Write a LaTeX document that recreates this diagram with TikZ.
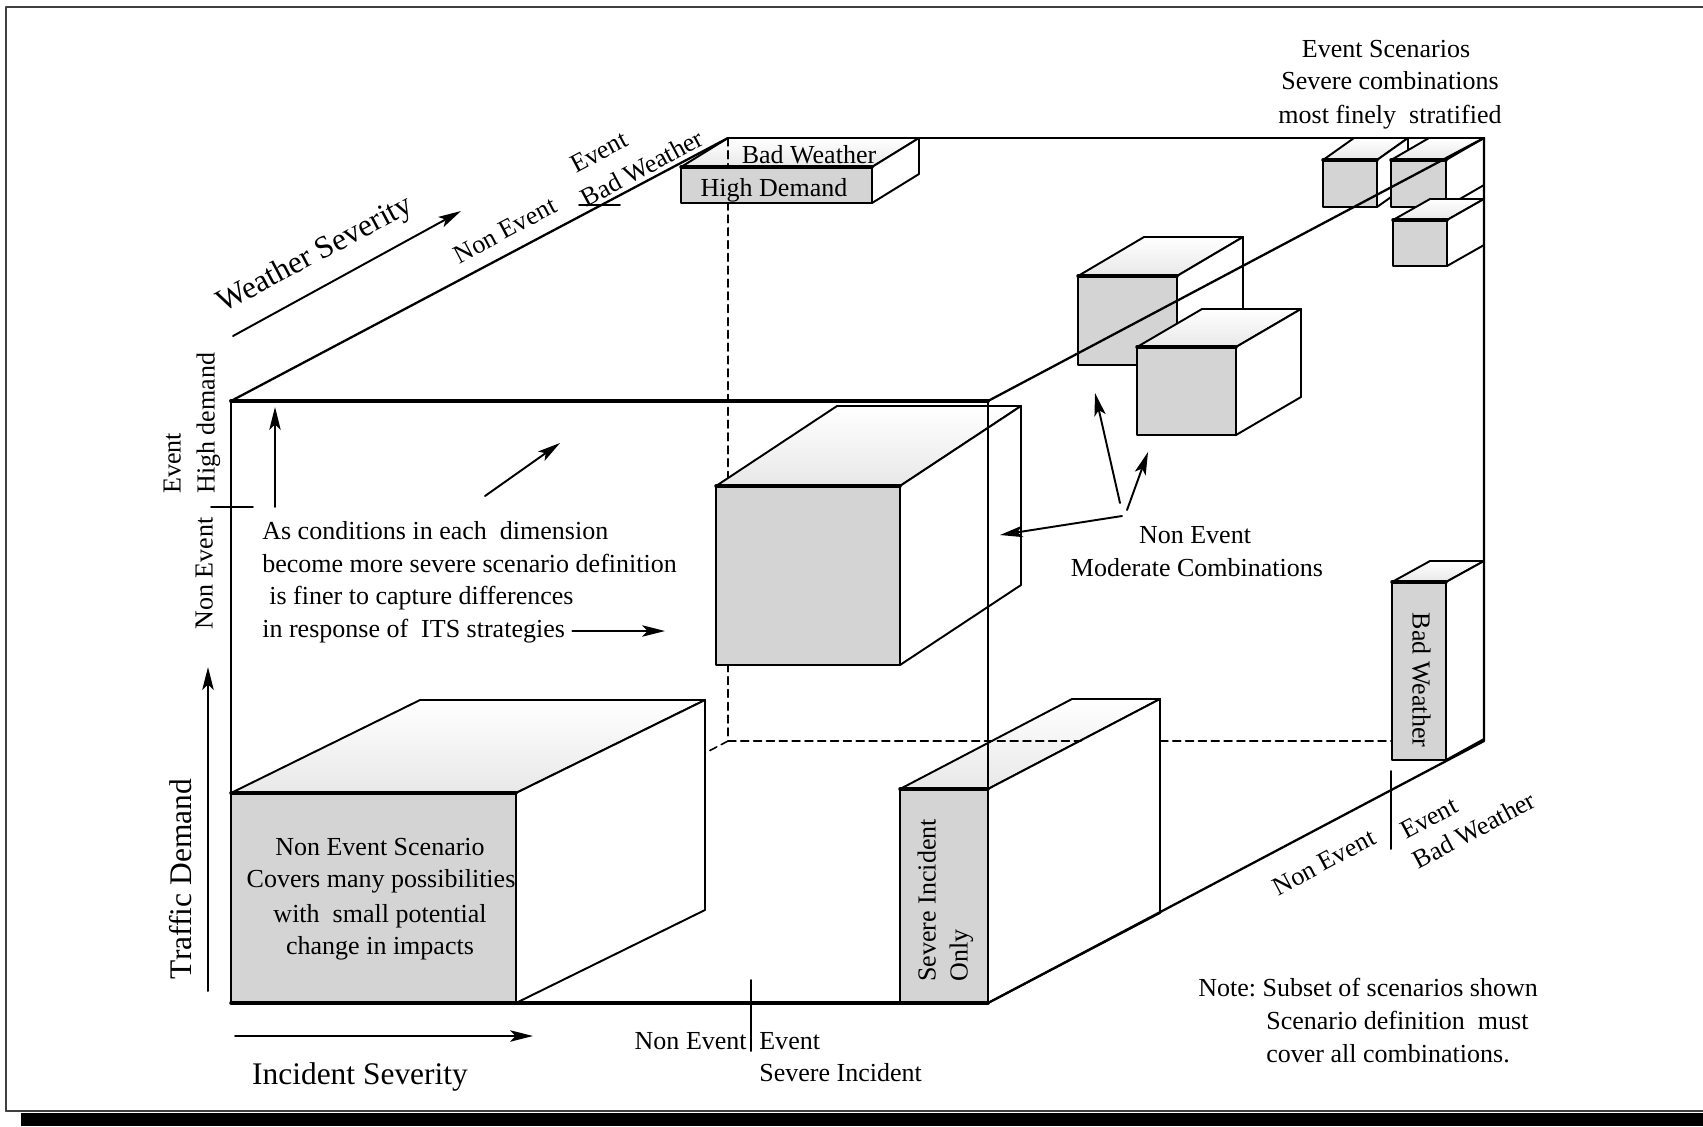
\documentclass[tikz,border=0pt]{standalone}
\usepackage{fontspec}
\setmainfont{Liberation Serif}
\usetikzlibrary{arrows.meta}

\begin{document}
\begin{tikzpicture}[line cap=round,line join=round,x=0.02cm,y=-0.02cm,
    lbl/.style={inner sep=0pt,font=\fontsize{14.8}{18}\selectfont,text height=10.4pt,text depth=3pt},
    ttl/.style={inner sep=0pt,font=\fontsize{17.9}{21}\selectfont,text height=12.5pt,text depth=3.6pt},
    boxline/.style={line width=1.1pt},
    frontface/.style={boxline,draw=black,fill=black!17},
    topface/.style={boxline,draw=black,top color=white,bottom color=black!9},
    sideface/.style={boxline,draw=black,fill=white},
    rim/.style={line width=2pt},
    hidden/.style={line width=0.9pt,dash pattern=on 4.5pt off 2.8pt},
    arr/.style={line width=1.1pt,-{Stealth[length=13pt,width=6.5pt,inset=3pt]}}]
  \useasboundingbox (0,0) rectangle (1703,1126);

  % page frame with its shadow
  \draw[line width=1.1pt,black!75] (6,1111) -- (6,7) -- (1703,7);
  \draw[line width=1.1pt,black!75] (6,1111) -- (1703,1111);
  \fill[black] (21,1113) rectangle (1703,1126);

  % corners of the scenario space
  \coordinate (F1) at (231,401);
  \coordinate (F2) at (988,401);
  \coordinate (F3) at (988,1003);
  \coordinate (F4) at (231,1003);
  \coordinate (B1) at (728,138);
  \coordinate (B2) at (1484,138);
  \coordinate (B3) at (1484,741);
  \coordinate (B4) at (728,741);

  % hidden edges
  \draw[hidden] (B1) -- (B4) -- (F4);

  % non event block
  \draw[topface] (231,793) -- ++(189,-93) -- ++(285,0) -- ++(-189,93) -- cycle;
  \draw[sideface] (516,793) -- ++(189,-93) -- ++(0,210) -- ++(-189,93) -- cycle;
  \draw[frontface] (231,793) rectangle (516,1003);
  \draw[rim] (231,793) -- (516,793);

  % middle block
  \draw[topface] (716,486) -- ++(121,-80) -- ++(184,0) -- ++(-121,80) -- cycle;
  \draw[sideface] (900,486) -- ++(121,-80) -- ++(0,179) -- ++(-121,80) -- cycle;
  \draw[frontface] (716,486) rectangle (900,665);
  \draw[rim] (716,486) -- (900,486);

  % severe incident block
  \draw[topface] (900,789) -- ++(172,-90) -- ++(88,0) -- ++(-172,90) -- cycle;
  \draw[sideface] (988,789) -- ++(172,-90) -- ++(0,214) -- ++(-172,90) -- cycle;
  \draw[frontface] (900,789) rectangle (988,1003);
  \draw[rim] (900,789) -- (988,789);

  % high demand block
  \draw[topface] (681,167) -- ++(47,-29) -- ++(191,0) -- ++(-47,29) -- cycle;
  \draw[sideface] (872,167) -- ++(47,-29) -- ++(0,36) -- ++(-47,29) -- cycle;
  \draw[frontface] (681,167) rectangle (872,203);
  \draw[rim] (681,167) -- (872,167);

  % moderate blocks
  \draw[topface] (1078,276) -- ++(66,-39) -- ++(99,0) -- ++(-66,39) -- cycle;
  \draw[sideface] (1177,276) -- ++(66,-39) -- ++(0,89) -- ++(-66,39) -- cycle;
  \draw[frontface] (1078,276) rectangle (1177,365);
  \draw[rim] (1078,276) -- (1177,276);
  \draw[topface] (1137,347) -- ++(65,-38) -- ++(99,0) -- ++(-65,38) -- cycle;
  \draw[sideface] (1236,347) -- ++(65,-38) -- ++(0,88) -- ++(-65,38) -- cycle;
  \draw[frontface] (1137,347) rectangle (1236,435);
  \draw[rim] (1137,347) -- (1236,347);

  % severe blocks
  \draw[topface] (1323,160) -- ++(31,-22) -- ++(54,0) -- ++(-31,22) -- cycle;
  \draw[sideface] (1377,160) -- ++(31,-22) -- ++(0,47) -- ++(-31,22) -- cycle;
  \draw[frontface] (1323,160) rectangle (1377,207);
  \draw[rim] (1323,160) -- (1377,160);
  \draw[topface] (1391,160) -- ++(38,-22) -- ++(55,0) -- ++(-38,22) -- cycle;
  \draw[sideface] (1446,160) -- ++(38,-22) -- ++(0,47) -- ++(-38,22) -- cycle;
  \draw[frontface] (1391,160) rectangle (1446,207);
  \draw[rim] (1391,160) -- (1446,160);
  \draw[topface] (1393,220) -- ++(37,-21) -- ++(54,0) -- ++(-37,21) -- cycle;
  \draw[sideface] (1447,220) -- ++(37,-21) -- ++(0,46) -- ++(-37,21) -- cycle;
  \draw[frontface] (1393,220) rectangle (1447,266);
  \draw[rim] (1393,220) -- (1447,220);

  % bad weather block
  \draw[topface] (1392,582) -- ++(38,-21) -- ++(54,0) -- ++(-38,21) -- cycle;
  \draw[sideface] (1446,582) -- ++(38,-21) -- ++(0,178) -- ++(-38,21) -- cycle;
  \draw[frontface] (1392,582) rectangle (1446,760);
  \draw[rim] (1392,582) -- (1446,582);

  % hidden edges seen through the top faces
  \draw[hidden] (B1) -- (728,167);
  \draw[hidden] (B4) -- (1081,741);
  \draw[hidden] (1160,741) -- (1392,741);

  % scenario space
  \draw[line width=2.2pt] (F1) -- (F2);
  \draw[line width=2pt] (F4) -- (F3);
  \draw[line width=1.6pt] (F2) -- (F3);
  \draw[boxline] (F1) -- (F4);
  \draw[line width=1.3pt] (F1) -- (B1);
  \draw[line width=1.6pt] (B1) -- (B2);
  \draw[line width=1.3pt] (B2) -- (B3) -- (F3);
  \draw[line width=1.3pt] (F2) -- (B2);

  % ticks between non event and event
  \draw[boxline] (579,205) -- (620,205);
  \draw[boxline] (211,507) -- (253,507);
  \draw[boxline] (751,980) -- (751,1051);
  \draw[boxline] (1391,771) -- (1391,849);

  % axes
  \coordinate (wsA) at (233,336);
  \coordinate (wsB) at (461,211);
  \coordinate (tdA) at (208,991);
  \coordinate (tdB) at (208,667);
  \coordinate (isA) at (235,1036);
  \coordinate (isB) at (533,1036);
  \draw[arr] (wsA) -- (wsB);
  \draw[arr] (tdA) -- (tdB);
  \draw[arr] (isA) -- (isB);

  \node[ttl,rotate=28] (wsev) at (315,255) {Weather Severity};
  \node[lbl,rotate=28] (wsnon) at (506,232) {Non Event};
  \node[lbl,rotate=28] (wsevt) at (600,154) {Event};
  \node[lbl,rotate=28] (wsbad) at (643,170) {Bad Weather};
  \node[ttl,rotate=90] (tdem) at (184,879) {Traffic Demand};
  \node[lbl,rotate=90,anchor=west] (tdhigh) at (208,494) {High demand};
  \node[lbl,rotate=90,anchor=west] (tdevt) at (174,494) {Event};
  \node[lbl,rotate=90,anchor=east] (tdnon) at (206,517) {Non Event};
  \node[ttl] (isev) at (360,1077) {Incident Severity};
  \node[lbl,anchor=east] (isnon) at (747,1043) {Non Event};
  \node[lbl,anchor=west] (isevt) at (759,1043) {Event};
  \node[lbl,anchor=west] (issev) at (759,1075) {Severe Incident};
  \node[lbl,rotate=28] (bwnon) at (1325,864) {Non Event};
  \node[lbl,rotate=28] (bwevt) at (1430,820) {Event};
  \node[lbl,rotate=28] (bwbad) at (1475,832) {Bad Weather};

  % block texts
  \node[lbl] (hdbad) at (809,157) {Bad Weather};
  \node[lbl] (hdhigh) at (774,190) {High Demand};
  \node[lbl] (ne1) at (380,849) {Non Event Scenario};
  \node[lbl] (ne2) at (381,881) {Covers many possibilities};
  \node[lbl] (ne3) at (380,916) {with\ \ small potential};
  \node[lbl] (ne4) at (380,948) {change in impacts};
  \node[lbl,rotate=90,anchor=west] (sev1) at (929,982) {Severe Incident};
  \node[lbl,rotate=90,anchor=west] (sev2) at (961,982) {Only};
  \node[lbl,rotate=-90] (bwtall) at (1419,680) {Bad Weather};

  % comments
  \node[lbl] (es1) at (1386,51) {Event Scenarios};
  \node[lbl] (es2) at (1390,83) {Severe combinations};
  \node[lbl] (es3) at (1390,117) {most finely\ \ stratified};
  \node[lbl,anchor=west] (cond1) at (262,533) {As conditions in each\ \ dimension};
  \node[lbl,anchor=west] (cond2) at (262,566) {become more severe scenario definition};
  \node[lbl,anchor=west] (cond3) at (269,598) {is finer to capture differences};
  \node[lbl,anchor=west] (cond4) at (262,631) {in response of\ \ ITS strategies};
  \node[lbl] (mod1) at (1195,537) {Non Event};
  \node[lbl] (mod2) at (1197,570) {Moderate Combinations};
  \node[lbl,anchor=west] (note1) at (1198,990) {Note:\ Subset of scenarios shown};
  \node[lbl,anchor=west] (note2) at (1266,1023) {Scenario definition\ \ must};
  \node[lbl,anchor=west] (note3) at (1266,1056) {cover all combinations.};

  % arrows of the comments
  \coordinate (upA) at (275,507);
  \coordinate (upB) at (275,407);
  \coordinate (dgA) at (485,496);
  \coordinate (dgB) at (560,443);
  \coordinate (itsB) at (665,631);
  \coordinate (modA) at (1120,503);
  \coordinate (modB) at (1127,510);
  \coordinate (modC) at (1122,516);
  \coordinate (mt1) at (1095,393);
  \coordinate (mt2) at (1148,452);
  \coordinate (mt3) at (1000,535);
  \draw[arr] (upA) -- (upB);
  \draw[arr] (dgA) -- (dgB);
  \draw[arr] ([xshift=4pt]cond4.east) -- (itsB);
  \draw[arr] (modA) -- (mt1);
  \draw[arr] (modB) -- (mt2);
  \draw[arr] (modC) -- (mt3);
\end{tikzpicture}
\end{document}
